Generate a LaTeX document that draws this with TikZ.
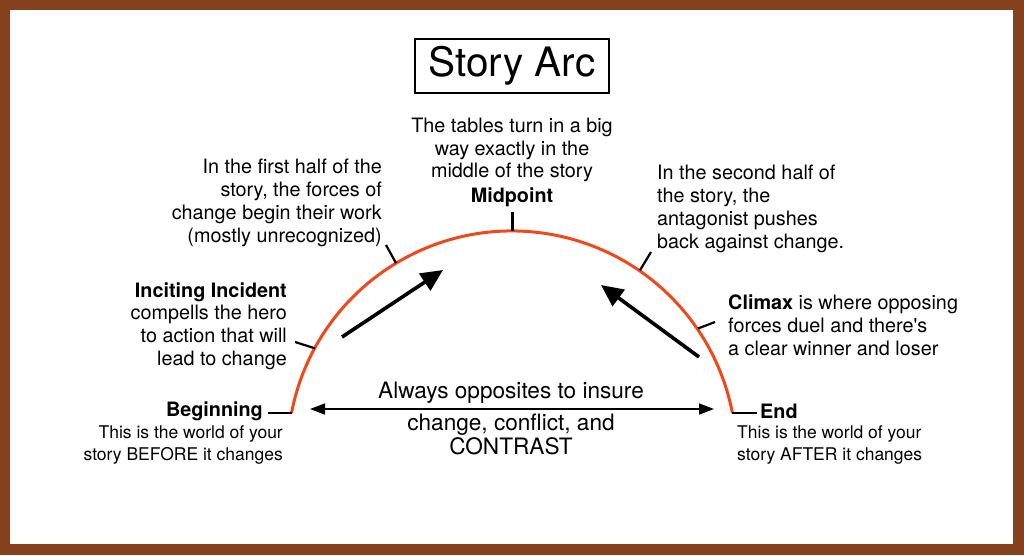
\documentclass[tikz,border=0pt]{standalone}
\usepackage{fontspec}
\setmainfont{TeX Gyre Heros}
\usetikzlibrary{arrows.meta}
\definecolor{framebrown}{RGB}{133,65,30}
\definecolor{arcred}{RGB}{240,72,28}
\begin{document}
\begin{tikzpicture}[x=1pt,y=-1pt,
  body/.style={inner sep=0pt,font=\fontsize{19.8}{22.8}\selectfont},
  small/.style={inner sep=0pt,font=\fontsize{17.5}{22}\selectfont},
  big/.style={inner sep=0pt,font=\fontsize{22.6}{24}\selectfont},
  tick/.style={line width=2.2pt,black},
  bigarrow/.style={line width=3.6pt,-{Triangle[length=22pt,width=20pt]}},
  dblarrow/.style={line width=1.5pt,{Triangle[length=15pt,width=11pt]}-{Triangle[length=15pt,width=11pt]}}]
\useasboundingbox (0,0) rectangle (1024,555);
\fill[framebrown] (0,0) rectangle (1024,555);
\fill[white] (10,10) rectangle (1013,544);
% title
\node[draw,line width=1.5pt,minimum width=194pt,minimum height=54pt,inner sep=0pt,font=\fontsize{40.5}{44}\selectfont] (title) at (512,66) {Story Arc};
% arc
\coordinate (beg) at (291.5,413);
\draw[arcred,line width=3pt] (beg) arc[start angle=190.9,end angle=349.1,radius=224.5] coordinate (end);
\coordinate (c) at (512.5,455);
% tick points on arc
\path (c) ++(0,-224.5) coordinate (amid);
\path (c) ++(-116.5,-191.9) coordinate (afirst);
\path (c) ++(127.5,-184.8) coordinate (asecond);
\path (c) ++(-197.5,-106.7) coordinate (ainc);
\path (c) ++(185.5,-126.5) coordinate (aclim);
\coordinate (tmid) at (512.5,212);
\coordinate (tfirst) at (386,245);
\coordinate (tsecond) at (651,252);
\coordinate (tinc) at (295,342);
\coordinate (tclim) at (715,322);
\coordinate (tbeg) at (268,413);
\coordinate (tend) at (757,413);
\draw[tick] (amid) -- (tmid);
\draw[tick] (afirst) -- (tfirst);
\draw[tick] (asecond) -- (tsecond);
\draw[tick] (ainc) -- (tinc);
\draw[tick] (aclim) -- (tclim);
\draw[tick] (beg) -- (tbeg);
\draw[tick] (end) -- (tend);
% texts
\node[body,align=center] (midtxt) at (512,150) {The tables turn in a big\\way exactly in the\\middle of the story};
\node[body,font=\fontsize{19.8}{22.8}\selectfont\bfseries] (midlbl) at (512,197) {Midpoint};
\node[body,align=right,anchor=east] (first) at (382,203) {In the first half of the\\story, the forces of\\change begin their work\\(mostly unrecognized)};
\node[body,align=left,anchor=west] (second) at (657,209) {In the second half of\\the story, the\\antagonist pushes\\back against change.};
\node[body,align=right,anchor=east] (inc) at (287,326) {\textbf{Inciting Incident}\\compells the hero\\to action that will\\lead to change};
\node[body,align=left,anchor=west] (clim) at (728,325) {\textbf{Climax} is where opposing\\forces duel and there\textquotesingle s\\a clear winner and loser};
\node[body,font=\fontsize{19.8}{22.8}\selectfont\bfseries,anchor=east] (beglbl) at (263,411) {Beginning};
\node[body,font=\fontsize{19.8}{22.8}\selectfont\bfseries,anchor=west] (endlbl) at (760,411) {End};
\node[small,align=right,anchor=east] (begtxt) at (283,445) {This is the world of your\\story BEFORE it changes};
\node[small,align=left,anchor=west] (endtxt) at (737,445) {This is the world of your\\story AFTER it changes};
\node[big] (always) at (511,393) {Always opposites to insure};
\node[big,align=center] (contrast) at (511,434) {change, conflict, and\\CONTRAST};
% arrows
\coordinate (dl) at (310,409);
\coordinate (dr) at (714,409);
\draw[dblarrow] (dl) -- (dr);
\coordinate (la1) at (342,337);
\coordinate (la2) at (443,270);
\draw[bigarrow] (la1) -- (la2);
\coordinate (ra1) at (699,357);
\coordinate (ra2) at (601,285);
\draw[bigarrow] (ra1) -- (ra2);
\end{tikzpicture}
\end{document}
